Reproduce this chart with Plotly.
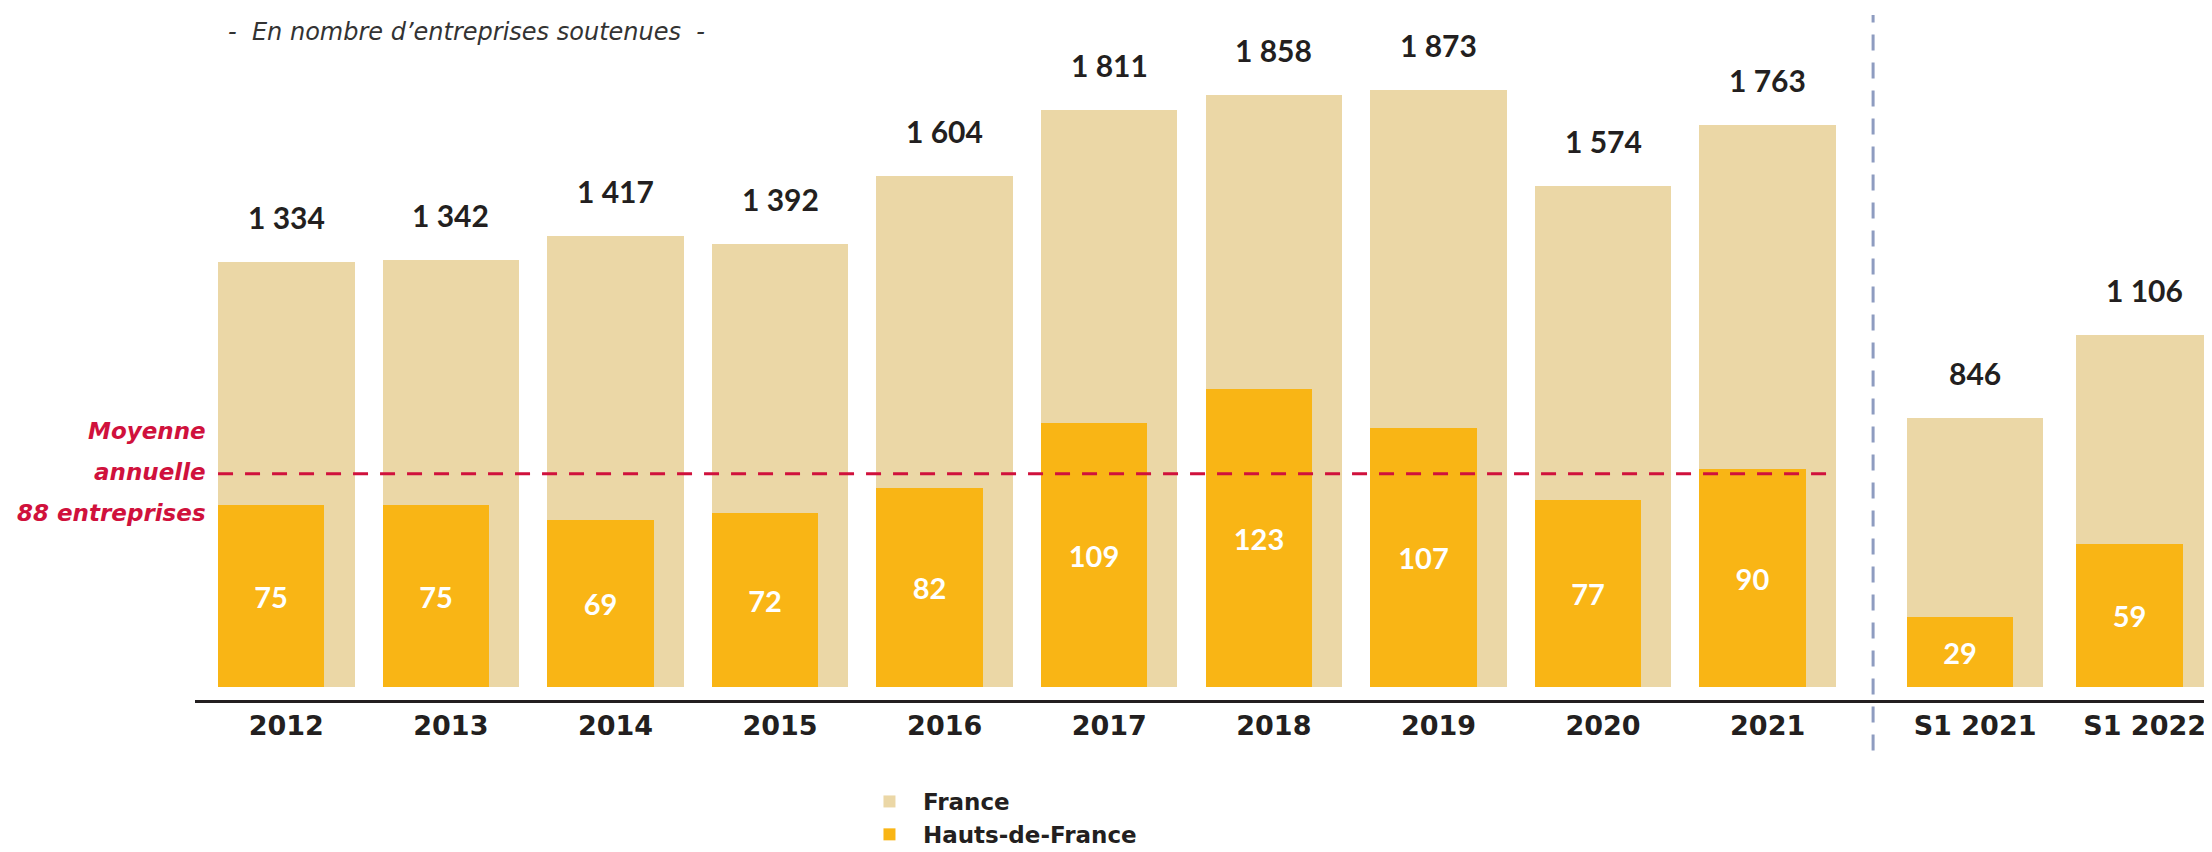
import plotly.graph_objects as go

# données
categories = ["2012", "2013", "2014", "2015", "2016", "2017", "2018", "2019", "2020", "2021",
              "S1 2021", "S1 2022"]
france = [1334, 1342, 1417, 1392, 1604, 1811, 1858, 1873, 1574, 1763, 846, 1106]
hdf = [75, 75, 69, 72, 82, 109, 123, 107, 77, 90, 29, 59]
moyenne_hdf = 88
moyenne_lines = ["Moyenne", "annuelle", "88 entreprises"]
subtitle = "-\u00a0\u00a0En nombre d’entreprises soutenues\u00a0\u00a0-"

# positions on the x axis (left edge of each group), semesters set apart
x_pos = [0, 1, 2, 3, 4, 5, 6, 7, 8, 9, 10.26, 11.29]
separator_x = 10.055
W_FR = 0.829
W_HDF = 0.646

BEIGE = "#EBD7A6"
ORANGE = "#F9B515"
RED = "#D0113C"
DARK = "#231F20"
FONT = "Lato"
WIDE = "DejaVu Sans"

fmt = lambda v: f"{v:,}".replace(",", "\u00a0")

fig = go.Figure()

fig.add_trace(go.Bar(
    x=x_pos, y=france, name="France",
    width=W_FR, offset=0,
    marker=dict(color=BEIGE, line=dict(width=0)),
    hoverinfo="skip",
))

fig.add_trace(go.Bar(
    x=x_pos, y=hdf, name="Hauts-de-France",
    width=W_HDF, offset=0, yaxis="y2",
    marker=dict(color=ORANGE, line=dict(width=0)),
    text=[str(v) for v in hdf], textposition="inside", insidetextanchor="middle",
    textangle=0, constraintext="none",
    textfont=dict(family=FONT, size=29, color="white", weight="bold"),
    hoverinfo="skip",
))

# France values above the bars
for x, v in zip(x_pos, france):
    fig.add_annotation(
        x=x + W_FR / 2, y=v, xref="x", yref="y", text=fmt(v),
        showarrow=False, yanchor="bottom", yshift=25,
        font=dict(family=FONT, size=30, color=DARK, weight="bold"),
    )

# average line (Hauts-de-France scale)
fig.add_shape(
    type="line", xref="x", yref="y2",
    x0=x_pos[0], x1=x_pos[9] + W_FR, y0=moyenne_hdf, y1=moyenne_hdf,
    line=dict(color=RED, width=3, dash="15px,12px"), layer="above",
)
for i, line in enumerate(moyenne_lines):
    fig.add_annotation(
        x=0.0064, xref="paper", y=moyenne_hdf, yref="y2",
        xanchor="right", yanchor="middle", yshift=(1 - i) * 41 + 2,
        text=f"<i>{line}</i>", showarrow=False,
        font=dict(family=WIDE, size=23, color=RED, weight="bold"),
    )

# separator annual / semester
fig.add_shape(
    type="line", xref="x", yref="paper",
    x0=separator_x, x1=separator_x, y0=-0.073, y1=0.99,
    line=dict(color="#8E9CC0", width=3, dash="16px,12px"),
)

fig.add_annotation(
    x=0.0154, xref="paper", y=0.966, yref="paper", xanchor="left", yanchor="middle",
    text=f"<i>{subtitle}</i>", showarrow=False,
    font=dict(family=WIDE, size=24, color="#333333"),
)

fig.update_layout(
    width=2204, height=848,
    margin=dict(l=187, r=0, t=0, b=148),
    paper_bgcolor="white", plot_bgcolor="white",
    barmode="overlay", bargap=0,
    showlegend=True,
    legend=dict(
        x=0.3277, y=-0.1157, xanchor="left", yanchor="top",
        font=dict(family=WIDE, size=23, color=DARK, weight="bold"),
        bgcolor="rgba(0,0,0,0)", traceorder="normal", itemwidth=57,
    ),
    xaxis=dict(
        range=[-0.14, 12.114], showgrid=False, zeroline=False,
        showline=True, linecolor=DARK, linewidth=3,
        tickmode="array", tickvals=[x + W_FR / 2 for x in x_pos], ticktext=categories,
        ticks="", tickfont=dict(family=WIDE, size=27, color=DARK, weight="bold"),
    ),
    yaxis=dict(range=[-40.3, 2131.6], visible=False),
    yaxis2=dict(range=[-5.3, 280.1], overlaying="y", visible=False),
)

fig.write_html("out.html")
